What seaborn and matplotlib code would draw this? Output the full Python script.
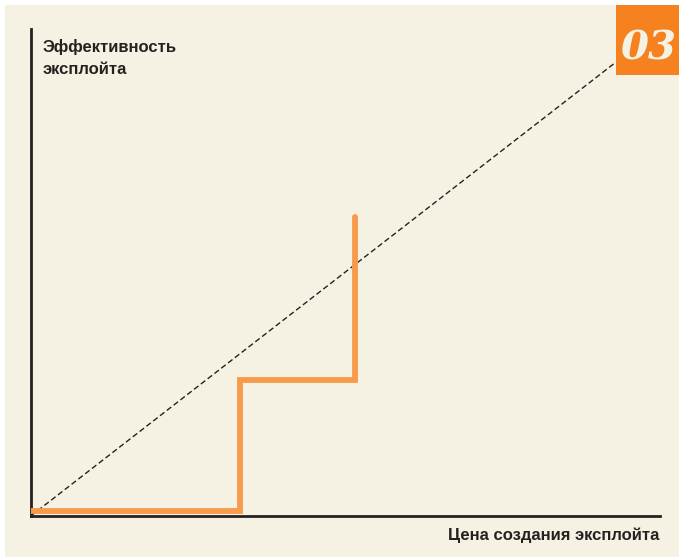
import matplotlib
matplotlib.use("Agg")
import matplotlib.pyplot as plt
from matplotlib.patches import Rectangle
import seaborn as sns
import pandas as pd

# Step curve: exploit effectiveness as a function of development cost
step_cost = [0.0, 33.3, 33.3, 51.6, 51.6]
step_effect = [1.1, 1.1, 27.9, 27.9, 61.3]

# Reference diagonal (effectiveness proportional to cost)
diag_cost = [0.0, 92.8]
diag_effect = [0.0, 93.0]

x_label = "Цена создания эксплойта"
y_label = "Эффективность\nэксплойта"
badge = "03"

BG = "#f5f1e3"
ORANGE_LINE = "#f79a4a"
ORANGE_BOX = "#f5821f"
INK = "#26211e"

sns.set_theme(style="white")
plt.rcParams["font.family"] = ["Liberation Sans", "DejaVu Sans"]

W, H = 679, 559
fig = plt.figure(figsize=(W / 100, H / 100), dpi=100)
fig.patch.set_facecolor("white")

# beige panel with a thin white margin top/left/bottom
fig.patches.append(Rectangle((5 / W, 2 / H), (W - 5) / W, (H - 7) / H,
                             transform=fig.transFigure, facecolor=BG,
                             edgecolor="none", zorder=-1))

left_px, right_px = 30.75, 660
top_px, bottom_px = 29, 516
ax = fig.add_axes([left_px / W, (H - bottom_px) / H,
                   (right_px - left_px) / W, (bottom_px - top_px) / H])
ax.set_zorder(1)
ax.patch.set_alpha(0)

step_df = pd.DataFrame({"cost": step_cost, "effect": step_effect})
diag_df = pd.DataFrame({"cost": diag_cost, "effect": diag_effect})

sns.lineplot(data=diag_df, x="cost", y="effect", sort=False, estimator=None,
             errorbar=None, ax=ax, color=INK, linewidth=1.0,
             linestyle=(0, (4, 2.2)), zorder=2)
sns.lineplot(data=step_df, x="cost", y="effect", sort=False, estimator=None,
             errorbar=None, ax=ax, color=ORANGE_LINE, linewidth=4.2, zorder=3,
             solid_joinstyle="miter", solid_capstyle="round")

ax.set_xlim(0, 100)
ax.set_ylim(0, 100)
ax.set_xticks([])
ax.set_yticks([])
ax.set_xlabel("")
ax.set_ylabel("")
for side in ("top", "right"):
    ax.spines[side].set_visible(False)
for side in ("left", "bottom"):
    ax.spines[side].set_color(INK)
    ax.spines[side].set_linewidth(2.0)
    ax.spines[side].set_capstyle("projecting")

# axis captions
fig.text(43 / W, 1 - 39 / H, y_label, ha="left", va="top",
         fontsize=12, fontweight="bold", color=INK, linespacing=1.55)
fig.text(659 / W, 1 - 535.5 / H, x_label, ha="right", va="center",
         fontsize=12, fontweight="bold", color=INK)

# numbered badge in the top-right corner
fig.patches.append(Rectangle((616 / W, 1 - 75 / H), (W - 616) / W, 70 / H,
                             transform=fig.transFigure, facecolor=ORANGE_BOX,
                             edgecolor="none", zorder=5))
fig.text(621 / W, 1 - 60 / H, badge, ha="left", va="baseline",
         fontsize=29, fontweight="bold", fontstyle="italic",
         family=["DejaVu Serif"], color=BG, zorder=6)

fig.savefig("out.png", dpi=100, facecolor=fig.get_facecolor())
